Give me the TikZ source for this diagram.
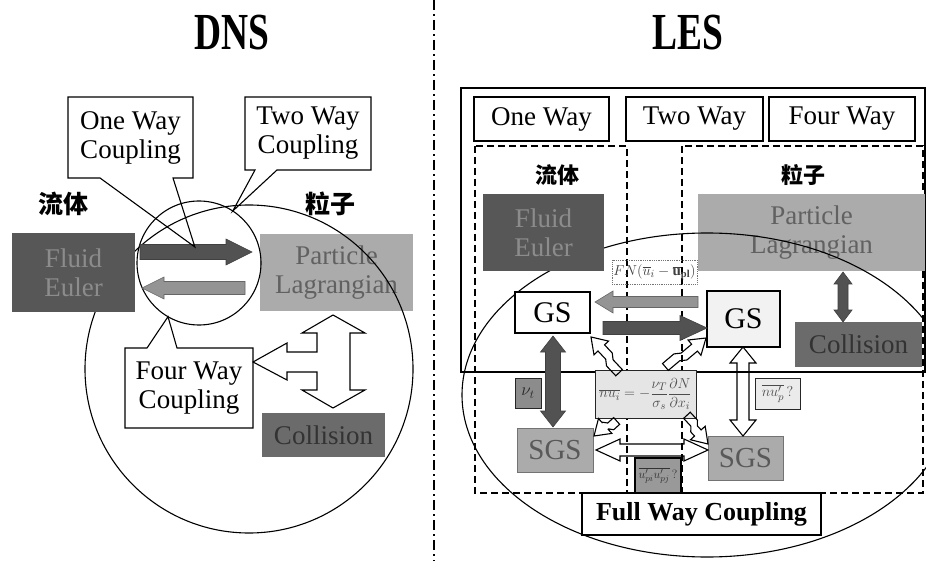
\documentclass[tikz,border=0pt]{standalone}
\usepackage{fontspec}
\setmainfont{Liberation Serif}
\newfontfamily\cjk{Noto Sans CJK SC}
\usepackage{graphicx}
\usetikzlibrary{calc}

% filled block arrow: style, from, to, shaft half width, head half width, head length
\newcommand\blockarr[6][]{%
  \draw[#1] ($(#2)!#4!90:(#3)$)
    -- ($(#3)!#6!(#2)!#4!90:(#3)$) -- ($(#3)!#6!(#2)!#5!90:(#3)$)
    -- (#3)
    -- ($(#3)!#6!(#2)!#5!-90:(#3)$) -- ($(#3)!#6!(#2)!#4!-90:(#3)$)
    -- ($(#2)!#4!-90:(#3)$) -- cycle;}
% double-headed block arrow
\newcommand\dblarr[6][]{%
  \draw[#1] (#2)
    -- ($(#2)!#6!(#3)!#5!90:(#3)$) -- ($(#2)!#6!(#3)!#4!90:(#3)$)
    -- ($(#3)!#6!(#2)!#4!90:(#3)$) -- ($(#3)!#6!(#2)!#5!90:(#3)$)
    -- (#3)
    -- ($(#3)!#6!(#2)!#5!-90:(#3)$) -- ($(#3)!#6!(#2)!#4!-90:(#3)$)
    -- ($(#2)!#6!(#3)!#4!-90:(#3)$) -- ($(#2)!#6!(#3)!#5!-90:(#3)$) -- cycle;}
% hollow arrow with a jog in its shaft: from, to
\newcommand\boltarr[2]{%
  \draw[hollow] ($(#1)!8.5pt!90:(#2)$) -- ($(#1)!0.3!(#2)!8.5pt!90:(#2)$)
    -- ($(#1)!0.42!(#2)!4.5pt!90:(#2)$) -- ($(#2)!15pt!(#1)!4.5pt!90:(#2)$)
    -- ($(#2)!15pt!(#1)!10pt!90:(#2)$) -- (#2)
    -- ($(#2)!15pt!(#1)!10pt!-90:(#2)$) -- ($(#2)!15pt!(#1)!4.5pt!-90:(#2)$)
    -- ($(#1)!0.42!(#2)!4.5pt!-90:(#2)$) -- ($(#1)!0.3!(#2)!0.5pt!-90:(#2)$)
    -- ($(#1)!0.5pt!-90:(#2)$) -- cycle;}

\begin{document}
\begin{tikzpicture}[x=1pt,y=-1pt,
  every node/.style={inner sep=0pt,outer sep=0pt,align=center},
  lbl/.style={font=\fontsize{27}{29}\selectfont},
  han/.style={font=\fontsize{25}{25}\selectfont\cjk\bfseries},
  hans/.style={font=\fontsize{22}{22}\selectfont\cjk\bfseries},
  wbox/.style={draw=black,line width=1.2pt,fill=white,lbl},
  fluidbox/.style={fill=black!66,text=black!45,lbl},
  partbox/.style={fill=black!33,text=black!62,lbl},
  collbox/.style={fill=black!58,text=black!80,lbl},
  sgsbox/.style={fill=black!33,draw=black!55,line width=0.8pt,text=black!65,font=\fontsize{29}{29}\selectfont},
  darkarr/.style={fill=black!68,draw=black!75,line width=0.6pt},
  lightarr/.style={fill=black!42,draw=black!60,line width=0.6pt},
  hollow/.style={draw=black,line width=1.1pt},
  thin/.style={draw=black,line width=1.1pt},
  dashbox/.style={draw=black,line width=1.3pt,dash pattern=on 7pt off 4pt},
]
\clip (0,0) rectangle (926,561);
\fill[white] (0,0) rectangle (926,561);

% ---------------- titles and separator ----------------
\node (tDNS) at (232,33) {\scalebox{0.72}[1]{\fontsize{52}{52}\selectfont\bfseries DNS}};
\node (tLES) at (688,33) {\scalebox{0.72}[1]{\fontsize{52}{52}\selectfont\bfseries LES}};
\draw[line width=1.3pt,dash pattern=on 10pt off 4pt on 2pt off 4pt] (434,0) -- (434,561);

% ---------------- DNS ----------------
\node[han] (fluidJ) at (63,204) {流体};
\node[han] (partJ) at (330,204) {粒子};

\node[partbox,minimum width=153pt,minimum height=77pt] (partL) at (336.5,272.5) {Particle\\Lagrangian};
\node[collbox,minimum width=123pt,minimum height=44pt] (collL) at (323.5,435) {Collision};

\node[circle,thin,minimum size=328pt] (bigC) at (249,369) {};
\node[circle,thin,minimum size=124pt] (smallC) at (199,263) {};

\node[fluidbox,minimum width=123pt,minimum height=79pt] (fluidL) at (73.5,272.5) {Fluid\\Euler};

% couplings between fluid and particles
\coordinate (aR1) at ($(fluidL.east)+(5,-20.5)$);
\coordinate (aR2) at ($(partL.west)+(-8,-20.5)$);
\coordinate (aL1) at ($(partL.west)+(-15,15.5)$);
\coordinate (aL2) at ($(fluidL.east)+(7,15.5)$);
\blockarr[darkarr]{aR1}{aR2}{7.5pt}{13pt}{26pt}
\blockarr[lightarr]{aL1}{aL2}{6.5pt}{11pt}{22pt}

% callouts
\node[lbl,minimum width=125pt,minimum height=81pt] (oneC) at (130.5,137.5) {One Way\\Coupling};
\coordinate (oneTip) at ($(aR1)!0.49!(aR2)+(0,-5)$);
\draw[thin] (oneC.south west) -- (oneC.north west) -- (oneC.north east) -- (oneC.south east)
  -- ($(oneC.south west)+(105,0)$) -- (oneTip) -- ($(oneC.south west)+(32,0)$) -- cycle;

\node[lbl,minimum width=126pt,minimum height=73pt] (twoC) at (308,133.5) {Two Way\\Coupling};
\coordinate (twoTip) at (smallC.57);
\draw[thin] (twoC.south west) -- (twoC.north west) -- (twoC.north east) -- (twoC.south east)
  -- ($(twoC.south west)+(32,0)$) -- (twoTip) -- ($(twoC.south west)+(10,0)$) -- cycle;

\node[lbl,minimum width=128pt,minimum height=80pt] (fourC) at (189,388) {Four Way\\Coupling};
\coordinate (fourTip) at (smallC.240);
\draw[thin] (fourC.north west) -- ($(fourC.north west)+(22,0)$) -- (fourTip)
  -- ($(fourC.north west)+(52,0)$) -- (fourC.north east) -- (fourC.south east)
  -- (fourC.south west) -- cycle;

% particle / collision / four-way hollow arrow
\coordinate (tT) at ($(partL.south)+(-3.5,4)$);
\begin{scope}[shift={(tT)}]
\draw[hollow] (0,0) -- (32,18) -- (17,18) -- (17,75) -- (32,75) -- (0,93) -- (-31,75)
  -- (-16,75) -- (-16,57) -- (-46,57) -- (-46,65) -- (-80,47) -- (-46,28) -- (-46,37)
  -- (-16,37) -- (-16,18) -- (-31,18) -- cycle;
\end{scope}

% ---------------- LES ----------------
\draw[thin] (461,88) rectangle (925,372);
\draw[dashbox] (475,146) rectangle (627,493);
\draw[dashbox] (682,146) rectangle (923,493);

\node[wbox,minimum width=135pt,minimum height=44pt] (oneR) at (541.5,119) {One Way};
\node[wbox,minimum width=137pt,minimum height=44pt] (twoR) at (694.5,119) {Two Way};
\node[wbox,minimum width=146pt,minimum height=44pt] (fourR) at (842,119) {Four Way};

\node[hans] (fluidJR) at (557,175) {流体};
\node[hans] (partJR) at (803,175) {粒子};

\node[partbox,minimum width=227pt,minimum height=77pt] (partR) at (811.5,232.5) {Particle\\Lagrangian};
\node[collbox,minimum width=127pt,minimum height=45pt] (collR) at (858.5,344.5) {Collision};

\draw[thin] (707,395) ellipse [x radius=245, y radius=162];

\node[fluidbox,minimum width=121pt,minimum height=77pt] (fluidR) at (543.5,232.5) {Fluid\\Euler};

\node[draw=black!55,densely dotted,line width=0.8pt,minimum width=85pt,minimum height=24pt,
  text=black!75,font=\fontsize{15}{15}\selectfont] (fn) at (654.5,272)
  {$FN(\overline{u}_i-\overline{\mathbf{u}}_{\mathbf{pl}})$};

\node[wbox,minimum width=75pt,minimum height=41pt,font=\fontsize{30}{30}\selectfont] (gsL) at (552.5,312.5) {GS};
\node[wbox,fill=black!5,minimum width=73pt,minimum height=56pt,font=\fontsize{30}{30}\selectfont] (gsR) at (743.5,319) {GS};

\node[draw=black!85,line width=1pt,fill=black!10,text=black!70,minimum width=101pt,minimum height=48pt,
  font=\fontsize{15}{15}\selectfont] (form) at (645.5,394)
  {$\overline{nu_i}=-\displaystyle\frac{\nu_T}{\sigma_s}\frac{\partial N}{\partial x_i}$};

\node[draw=black!85,line width=1pt,fill=black!45,text=black!85,minimum width=26pt,minimum height=30pt,
  font=\fontsize{18}{18}\selectfont] (nuT) at (528,393) {$\nu_t$};
\node[draw=black!85,line width=1pt,fill=black!8,text=black!70,minimum width=45pt,minimum height=31pt,
  font=\fontsize{15}{15}\selectfont] (nup) at (777.5,393.5) {$\overline{nu'_{p}}\,?$};

\node[sgsbox,minimum width=76pt,minimum height=44pt] (sgsL) at (555,450) {SGS};
\node[sgsbox,minimum width=75pt,minimum height=44pt] (sgsR) at (745.5,458) {SGS};

\node[draw=black,line width=1.6pt,fill=black!40,text=black!80,minimum width=46pt,minimum height=35pt,
  font=\fontsize{13}{13}\selectfont] (upp) at (658,475.5) {$\overline{u'_{pi}u'_{pj}}\,?$};

% GS couplings
\coordinate (g1) at ($(gsR.west)+(-9,-17)$);
\coordinate (g2) at ($(gsL.east)+(5,-10.5)$);
\coordinate (g3) at ($(gsL.east)+(13,15.5)$);
\coordinate (g4) at ($(gsR.west)+(0,9)$);
\blockarr[lightarr]{g1}{g2}{5.5pt}{11pt}{18pt}
\blockarr[darkarr]{g3}{g4}{6.5pt}{12.5pt}{27pt}

% GS <-> SGS
\coordinate (v1) at ($(gsL.south)+(0.5,3)$);
\coordinate (v2) at ($(sgsL.north)+(-2,-1)$);
\dblarr[darkarr]{v1}{v2}{7.5pt}{12.5pt}{16pt}
\coordinate (w1) at ($(gsR.south)+(-0.5,0)$);
\coordinate (w2) at ($(sgsR.north)+(-2.5,0)$);
\dblarr[hollow]{w1}{w2}{6pt}{13pt}{16pt}
\coordinate (h1) at ($(sgsL.east)+(3,0)$);
\coordinate (h2) at ($(sgsR.west)+(0,-8)$);
\dblarr[hollow]{h1}{h2}{6pt}{11pt}{24pt}

% particle <-> collision
\coordinate (c1) at ($(partR.south)+(31.5,1)$);
\coordinate (c2) at ($(collR.north)+(-15.5,0)$);
\dblarr[darkarr]{c1}{c2}{5pt}{9pt}{12pt}

% model term to resolved and subgrid scales
\coordinate (b1s) at ($(form.north west)+(27,0)$);
\coordinate (b1t) at ($(gsL.south east)+(1,4)$);
\coordinate (b2s) at ($(form.north east)+(-28,0)$);
\coordinate (b2t) at ($(gsR.south west)+(-1,-9)$);
\coordinate (b3s) at ($(form.south west)+(19,0)$);
\coordinate (b3t) at ($(sgsL.north east)+(1,8)$);
\coordinate (b4s) at ($(form.south east)+(-12,0)$);
\coordinate (b4t) at ($(sgsR.north west)+(0,8)$);
\boltarr{b1s}{b1t}
\boltarr{b2s}{b2t}
\boltarr{b3s}{b3t}
\boltarr{b4s}{b4t}

\node[wbox,minimum width=239pt,minimum height=42pt,font=\fontsize{26}{26}\selectfont\bfseries] (full) at (701.5,514) {Full Way Coupling};
\end{tikzpicture}
\end{document}
